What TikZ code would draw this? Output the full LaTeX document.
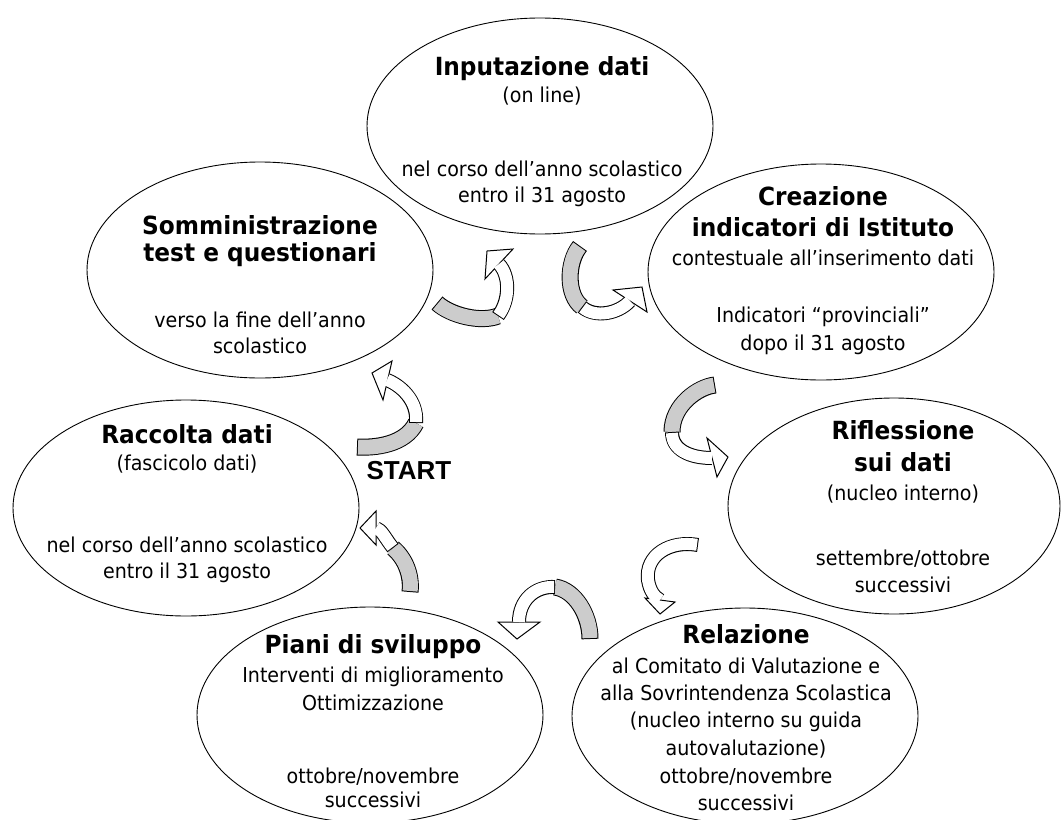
\documentclass[tikz,border=0pt]{standalone}
\usepackage{fontspec}
\setmainfont{DejaVu Sans}[FakeStretch=0.93]
\newfontfamily\startfont{Liberation Sans}
\usetikzlibrary{shapes.geometric}
\definecolor{gfill}{RGB}{204,204,204}
\tikzset{
  ell/.style={draw=black, line width=0.9pt, ellipse, minimum width=346pt, minimum height=216pt, inner sep=0pt},
  rg/.style={font=\fontsize{20.5}{24}\selectfont, anchor=base, inner sep=0pt},
  bd/.style={font=\fontsize{25}{28}\selectfont\bfseries, anchor=base, inner sep=0pt},
  bo/.style={line width=17pt, draw=black, line cap=butt},
  bi/.style={line width=15pt, draw=gfill, line cap=butt, shorten <=1pt},
  wo/.style={line width=14pt, draw=black, line cap=butt},
  wi/.style={line width=12pt, draw=white, line cap=butt, shorten <=1pt},
  head/.style={fill=white, draw=black, line width=1pt, line join=miter}
}
\begin{document}
\begin{tikzpicture}[x=1pt, y=-1pt]
\useasboundingbox (0,0) rectangle (1062,819);
\fill[white] (0,0) rectangle (1062,819);

% ellipses
\node[ell] (e1) at (540,126) {};
\node[ell] (e2) at (260,270) {};
\node[ell] (e3) at (821,272) {};
\node[ell, minimum width=332pt] (e4) at (894,506) {};
\node[ell] (e5) at (186,508) {};
\node[ell] (e6) at (370,715) {};
\node[ell] (e7) at (745,716) {};

% texts
\node[bd] (t1a) at (542,75) {Inputazione dati};
\node[rg] (t1b) at (542,102) {(on line)};
\node[rg] (t1c) at (542,176) {nel corso dell’anno scolastico};
\node[rg] (t1d) at (542,202) {entro il 31 agosto};

\node[bd] (t2a) at (260,234) {Somministrazione};
\node[bd] (t2b) at (260,261) {test e questionari};
\node[rg] (t2c) at (260,327) {verso la fine dell’anno};
\node[rg] (t2d) at (260,353) {scolastico};

\node[bd] (t3a) at (823,205) {Creazione};
\node[bd] (t3b) at (823,236) {indicatori di Istituto};
\node[rg] (t3c) at (823,265) {contestuale all’inserimento dati};
\node[rg] (t3d) at (823,322) {Indicatori “provinciali”};
\node[rg] (t3e) at (823,350) {dopo il 31 agosto};

\node[bd] (t4a) at (903,439) {Riflessione};
\node[bd] (t4b) at (903,471) {sui dati};
\node[rg] (t4c) at (903,500) {(nucleo interno)};
\node[rg] (t4d) at (903,565) {settembre/ottobre};
\node[rg] (t4e) at (903,592) {successivi};

\node[bd] (t5a) at (187,443) {Raccolta dati};
\node[rg] (t5b) at (187,470) {(fascicolo dati)};
\node[rg] (t5c) at (187,552) {nel corso dell’anno scolastico};
\node[rg] (t5d) at (187,578) {entro il 31 agosto};

\node[bd] (t6a) at (373,653) {Piani di sviluppo};
\node[rg] (t6b) at (373,682) {Interventi di miglioramento};
\node[rg] (t6c) at (373,710) {Ottimizzazione};
\node[rg] (t6d) at (373,783) {ottobre/novembre};
\node[rg] (t6e) at (373,807) {successivi};

\node[bd] (t7a) at (746,643) {Relazione};
\node[rg] (t7b) at (746,673) {al Comitato di Valutazione e};
\node[rg] (t7c) at (746,700) {alla Sovrintendenza Scolastica};
\node[rg] (t7d) at (746,727) {(nucleo interno su guida};
\node[rg] (t7e) at (746,755) {autovalutazione)};
\node[rg] (t7f) at (746,783) {ottobre/novembre};
\node[rg] (t7g) at (746,810) {successivi};

\node[anchor=base, inner sep=0pt, font=\startfont\fontsize{26}{28}\selectfont\bfseries] (start) at (409,479) {START};

% arrow A: Somministrazione -> Inputazione
\draw[bo] (437,303) .. controls (450,315) and (480,323) .. (498,316);
\draw[bi] (437,303) .. controls (450,315) and (480,323) .. (498,316);
\draw[wo] (498,316) .. controls (510,300) and (510,276) .. (499,264);
\draw[head] (485,279) -- (487,251) -- (513,249) -- cycle;
\draw[wi] (498,316) .. controls (510,300) and (510,276) .. (499,264);

% arrow B: Inputazione -> Creazione
\draw[bo] (580,246) .. controls (567,262) and (566,295) .. (582,307);
\draw[bi] (580,246) .. controls (567,262) and (566,295) .. (582,307);
\draw[wo] (582,307) .. controls (595,318) and (618,314) .. (630,301);
\draw[head] (613,290) -- (642,287) -- (647,312) -- cycle;
\draw[wi] (582,307) .. controls (595,318) and (618,314) .. (630,301);

% arrow C: Creazione -> Riflessione
\draw[bo] (715,385) .. controls (698,387) and (672,405) .. (672,432);
\draw[bi] (715,385) .. controls (698,387) and (672,405) .. (672,432);
\draw[wo] (672,432) .. controls (672,450) and (690,458) .. (712,458);
\draw[head] (707,438) -- (728,457) -- (717,477) -- cycle;
\draw[wi] (672,432) .. controls (672,450) and (690,458) .. (712,458);

% arrow D: Riflessione -> Relazione
\draw[wo] (698,545) .. controls (670,540) and (645,555) .. (648,580) .. controls (650,592) and (655,597) .. (660,600);
\draw[head] (645,598) -- (660,614) -- (675,602) -- cycle;
\draw[wi] (698,545) .. controls (670,540) and (645,555) .. (648,580) .. controls (650,592) and (655,597) .. (660,600);

% arrow E: Relazione -> Piani
\draw[bo] (590,639) .. controls (590,615) and (575,590) .. (555,587);
\draw[bi] (590,639) .. controls (590,615) and (575,590) .. (555,587);
\draw[wo] (555,587) .. controls (535,586) and (519,600) .. (519,622);
\draw[head] (498,622) -- (517,639) -- (540,622) -- cycle;
\draw[wi] (555,587) .. controls (535,586) and (519,600) .. (519,622);

% arrow F: Piani -> Raccolta
\draw[bo] (410,592) .. controls (412,575) and (405,558) .. (393,548);
\draw[bi] (410,592) .. controls (412,575) and (405,558) .. (393,548);
\draw[wo] (393,548) .. controls (385,538) and (382,530) .. (376,528);
\draw[head] (376,511) -- (360,528) -- (376,545) -- cycle;
\draw[wi] (393,548) .. controls (385,538) and (382,530) .. (376,528);

% arrow G: Raccolta -> Somministrazione
\draw[bo] (357,447) .. controls (375,448) and (405,445) .. (416,423);
\draw[bi] (357,447) .. controls (375,448) and (405,445) .. (416,423);
\draw[wo] (416,423) .. controls (418,400) and (400,385) .. (387,380);
\draw[head] (392,361) -- (372,373) -- (383,400) -- cycle;
\draw[wi] (416,423) .. controls (418,400) and (400,385) .. (387,380);
\end{tikzpicture}
\end{document}
